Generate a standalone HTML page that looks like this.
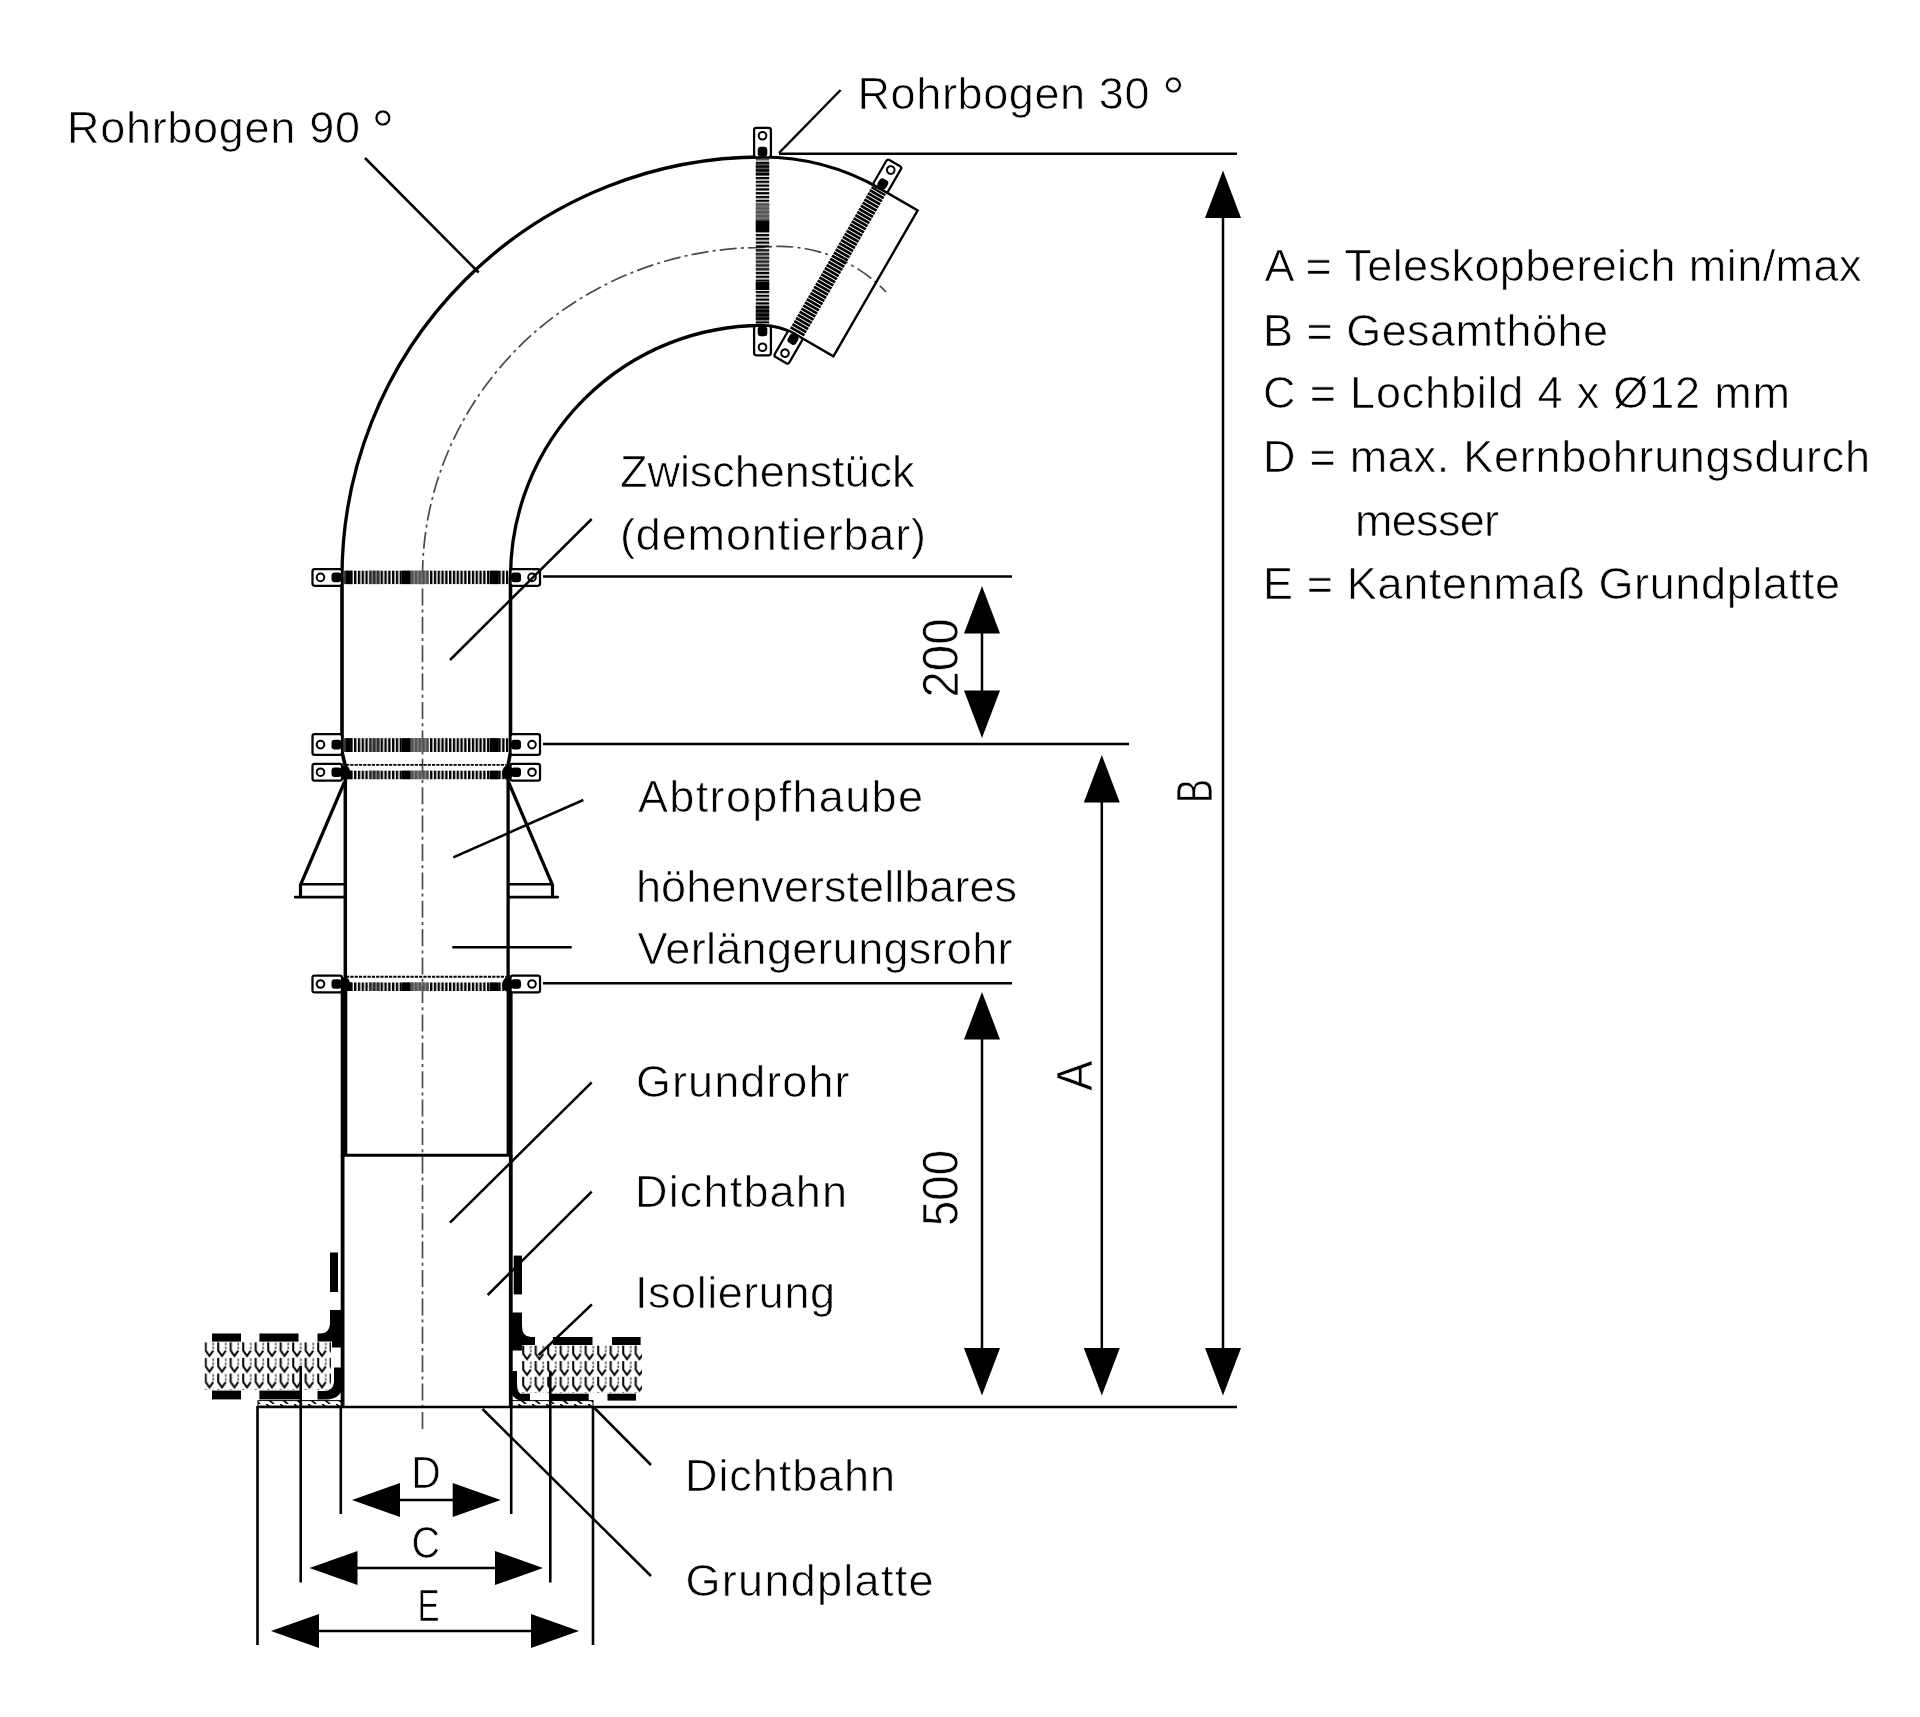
<!DOCTYPE html>
<html lang="de"><head><meta charset="utf-8"><title>Dachdurchführung</title>
<style>html,body{margin:0;padding:0;background:#fff;overflow:hidden}svg{display:block;filter:grayscale(1)}text{font-family:"Liberation Sans", "DejaVu Sans", sans-serif;fill:#000;stroke:#fff;stroke-width:.7px}</style>
</head><body>
<svg width="1920" height="1717" viewBox="0 0 1920 1717">
<defs>
<pattern id="stripe" width="3.8" height="10" patternUnits="userSpaceOnUse"><rect x="0" y="0" width="2.35" height="10" fill="#000"/></pattern>
<pattern id="stripe2" width="3.6" height="10" patternUnits="userSpaceOnUse"><rect x="0" y="0" width="2.7" height="10" fill="#000"/></pattern>
<pattern id="iso" width="12.5" height="15.7" patternUnits="userSpaceOnUse"><path d="M1.2,2 V8.5 L5,13.8 L8.8,8.5" fill="none" stroke="#000" stroke-width="2"/><path d="M8.8,0.5 V8.5" fill="none" stroke="#666" stroke-width="1.7" stroke-dasharray="2.6 1.4"/><path d="M1.2,0 V2" fill="none" stroke="#000" stroke-width="2"/></pattern>
<pattern id="hatch" width="14" height="6" patternUnits="userSpaceOnUse"><path d="M0,0 L8,6" stroke="#000" stroke-width="1.6"/></pattern>
</defs>
<rect width="1920" height="1717" fill="#fff"/>
<path d="M422.5,1429 V577 A339.5,329.5 0 0 1 762.0,247.5 A146.0,145.5 0 0 1 886,292" fill="none" stroke="#4a4a4a" stroke-width="1.7" stroke-dasharray="17 4.2 3 4.2"/>
<path d="M342.0,577.0 A420.0,420.0 0 0 1 762.0,157.0" fill="none" stroke="#000" stroke-width="3.3"/>
<path d="M510.5,577.0 A251.5,251.5 0 0 1 762.0,325.5" fill="none" stroke="#000" stroke-width="3.3"/>
<path d="M762.0,157.0 A236.0,236.0 0 0 1 880.00,188.62" fill="none" stroke="#000" stroke-width="3.1"/>
<path d="M762.0,325.5 A67.5,67.5 0 0 1 795.75,334.54" fill="none" stroke="#000" stroke-width="3.1"/>
<path d="M880.00,188.62 l37.67,21.75 L833.42,356.29 L795.75,334.54" fill="none" stroke="#000" stroke-width="2.4"/>
<path d="M342.0,577 V752 L345.3,766 V772" fill="none" stroke="#000" stroke-width="3.6"/>
<path d="M510.5,577 V752 L508,766 V772" fill="none" stroke="#000" stroke-width="3.6"/>
<line x1="345.3" y1="772" x2="345.3" y2="984" stroke="#000" stroke-width="3.5" />
<line x1="508.1" y1="772" x2="508.1" y2="984" stroke="#000" stroke-width="3.3" />
<line x1="344" y1="984" x2="344" y2="1156" stroke="#000" stroke-width="6.6" />
<line x1="509.6" y1="984" x2="509.6" y2="1156" stroke="#000" stroke-width="6.0" />
<line x1="342.6" y1="1155" x2="342.6" y2="1406" stroke="#000" stroke-width="3.8" />
<line x1="510.8" y1="1155" x2="510.8" y2="1406" stroke="#000" stroke-width="3.8" />
<line x1="343" y1="1155.2" x2="510.7" y2="1155.2" stroke="#000" stroke-width="3" />
<path d="M344.5,782 L300.5,885 V897" fill="none" stroke="#000" stroke-width="3.2" stroke-linejoin="round"/>
<path d="M508.5,782 L552.5,885 V897" fill="none" stroke="#000" stroke-width="3.2" stroke-linejoin="round"/>
<line x1="300" y1="884.3" x2="344" y2="884.3" stroke="#000" stroke-width="2.6" />
<line x1="295.3" y1="897.1" x2="344" y2="897.1" stroke="#000" stroke-width="2.9" stroke-linecap="round"/>
<line x1="509" y1="884.3" x2="552.5" y2="884.3" stroke="#000" stroke-width="2.6" />
<line x1="509" y1="897.1" x2="557.7" y2="897.1" stroke="#000" stroke-width="2.9" stroke-linecap="round"/>
<line x1="779" y1="153.7" x2="1237" y2="153.7" stroke="#000" stroke-width="2.5" />
<line x1="543" y1="576.6" x2="1012" y2="576.6" stroke="#000" stroke-width="2.5" />
<line x1="543" y1="744" x2="1129" y2="744" stroke="#000" stroke-width="2.5" />
<line x1="543" y1="983.2" x2="1012" y2="983.2" stroke="#000" stroke-width="2.5" />
<line x1="257" y1="1407" x2="1237" y2="1407" stroke="#000" stroke-width="2.6" />
<g transform="translate(762.5 241.5) rotate(90)">
<rect x="-113.75" y="-8.4" width="29.50" height="16.8" rx="2.2" fill="#fff" stroke="#000" stroke-width="2.25"/>
<circle cx="-105.75" cy="0" r="3.8" fill="#fff" stroke="#000" stroke-width="2"/>
<rect x="-94.75" y="-4.8" width="10" height="9.6" rx="3.2" fill="#000"/>
<rect x="84.25" y="-8.4" width="29.50" height="16.8" rx="2.2" fill="#fff" stroke="#000" stroke-width="2.25"/>
<circle cx="105.75" cy="0" r="3.8" fill="#fff" stroke="#000" stroke-width="2"/>
<rect x="84.75" y="-4.8" width="10" height="9.6" rx="3.2" fill="#000"/>
<rect x="-82.25" y="-6.7" width="164.5" height="13.4" fill="url(#stripe)"/>
<rect x="-21" y="-6.7" width="11.5" height="13.4" fill="#000" opacity="1"/>
<rect x="40.5" y="-6.7" width="8.0" height="13.4" fill="#000" opacity="1"/>
<rect x="64" y="-6.7" width="15" height="13.4" fill="#000" opacity="0.75"/>
<rect x="-38.5" y="-6.7" width="17.5" height="13.4" fill="#666" opacity="0.85"/>
<rect x="-78" y="-6.7" width="12" height="13.4" fill="#000" opacity="0.6"/>
<rect x="8" y="-6.7" width="22" height="13.4" fill="#555" opacity="0.45"/>
</g>
<g transform="translate(837.875 261.58064497571144) rotate(120)">
<rect x="-113.75" y="-8.4" width="29.50" height="16.8" rx="2.2" fill="#fff" stroke="#000" stroke-width="2.25"/>
<circle cx="-105.75" cy="0" r="3.8" fill="#fff" stroke="#000" stroke-width="2"/>
<rect x="-94.75" y="-4.8" width="10" height="9.6" rx="3.2" fill="#000"/>
<rect x="84.25" y="-8.4" width="29.50" height="16.8" rx="2.2" fill="#fff" stroke="#000" stroke-width="2.25"/>
<circle cx="105.75" cy="0" r="3.8" fill="#fff" stroke="#000" stroke-width="2"/>
<rect x="84.75" y="-4.8" width="10" height="9.6" rx="3.2" fill="#000"/>
<rect x="-82.25" y="-8" width="164.5" height="16" fill="url(#stripe2)"/>
</g>
<g transform="translate(426.25 577.4) rotate(0)">
<rect x="-113.75" y="-8.4" width="29.50" height="16.8" rx="2.2" fill="#fff" stroke="#000" stroke-width="2.25"/>
<circle cx="-105.75" cy="0" r="3.8" fill="#fff" stroke="#000" stroke-width="2"/>
<rect x="-94.75" y="-4.8" width="10" height="9.6" rx="3.2" fill="#000"/>
<rect x="84.25" y="-8.4" width="29.50" height="16.8" rx="2.2" fill="#fff" stroke="#000" stroke-width="2.25"/>
<circle cx="105.75" cy="0" r="3.8" fill="#fff" stroke="#000" stroke-width="2"/>
<rect x="84.75" y="-4.8" width="10" height="9.6" rx="3.2" fill="#000"/>
<rect x="-82.25" y="-6.7" width="164.5" height="13.4" fill="url(#stripe)"/>
<rect x="-24.5" y="-6.7" width="9.0" height="13.4" fill="#000" opacity="1"/>
<rect x="63.5" y="-6.7" width="9.0" height="13.4" fill="#000" opacity="1"/>
<rect x="-81" y="-6.7" width="7" height="13.4" fill="#000" opacity="1"/>
<rect x="-15.5" y="-6.7" width="17.5" height="13.4" fill="#666" opacity="0.8"/>
<rect x="-57" y="-6.7" width="11" height="13.4" fill="#444" opacity="0.7"/>
</g>
<g transform="translate(426.25 744.6) rotate(0)">
<rect x="-113.75" y="-10.4" width="29.50" height="20.8" rx="2.2" fill="#fff" stroke="#000" stroke-width="2.25"/>
<circle cx="-105.75" cy="0" r="3.8" fill="#fff" stroke="#000" stroke-width="2"/>
<rect x="-94.75" y="-4.8" width="10" height="9.6" rx="3.2" fill="#000"/>
<rect x="84.25" y="-10.4" width="29.50" height="20.8" rx="2.2" fill="#fff" stroke="#000" stroke-width="2.25"/>
<circle cx="105.75" cy="0" r="3.8" fill="#fff" stroke="#000" stroke-width="2"/>
<rect x="84.75" y="-4.8" width="10" height="9.6" rx="3.2" fill="#000"/>
<rect x="-82.25" y="-6.4" width="164.5" height="13.8" fill="url(#stripe)"/>
<rect x="-24.5" y="-6.4" width="9.0" height="13.8" fill="#000" opacity="1"/>
<rect x="63.5" y="-6.4" width="9.0" height="13.8" fill="#000" opacity="1"/>
<rect x="-81" y="-6.4" width="7" height="13.8" fill="#000" opacity="1"/>
<rect x="-15.5" y="-6.4" width="17.5" height="13.8" fill="#666" opacity="0.8"/>
<rect x="-57" y="-6.4" width="11" height="13.8" fill="#444" opacity="0.7"/>
</g>
<g transform="translate(426.25 772.2) rotate(0)">
<rect x="-113.75" y="-8.4" width="29.50" height="16.8" rx="2.2" fill="#fff" stroke="#000" stroke-width="2.25"/>
<circle cx="-105.75" cy="0" r="3.8" fill="#fff" stroke="#000" stroke-width="2"/>
<rect x="-94.75" y="-4.8" width="10" height="9.6" rx="3.2" fill="#000"/>
<rect x="84.25" y="-8.4" width="29.50" height="16.8" rx="2.2" fill="#fff" stroke="#000" stroke-width="2.25"/>
<circle cx="105.75" cy="0" r="3.8" fill="#fff" stroke="#000" stroke-width="2"/>
<rect x="84.75" y="-4.8" width="10" height="9.6" rx="3.2" fill="#000"/>
<rect x="-82.25" y="-1.5" width="164.5" height="8.5" fill="url(#stripe)"/>
<rect x="-24.5" y="-1.5" width="9.0" height="8.5" fill="#000" opacity="1"/>
<rect x="63.5" y="-1.5" width="9.0" height="8.5" fill="#000" opacity="1"/>
<rect x="-81" y="-1.5" width="7" height="8.5" fill="#000" opacity="1"/>
<rect x="-15.5" y="-1.5" width="17.5" height="8.5" fill="#666" opacity="0.8"/>
<rect x="-57" y="-1.5" width="11" height="8.5" fill="#444" opacity="0.7"/>
<line x1="-80.25" y1="-7.3" x2="80.25" y2="-7.3" stroke="#000" stroke-width="1.9" stroke-dasharray="3.2 1.1"/>
<ellipse cx="-81.25" cy="0.5" rx="5.2" ry="7.2" fill="#000"/>
<ellipse cx="81.25" cy="0.5" rx="5.2" ry="7.2" fill="#000"/>
</g>
<g transform="translate(426.25 984.0) rotate(0)">
<rect x="-113.75" y="-8.4" width="29.50" height="16.8" rx="2.2" fill="#fff" stroke="#000" stroke-width="2.25"/>
<circle cx="-105.75" cy="0" r="3.8" fill="#fff" stroke="#000" stroke-width="2"/>
<rect x="-94.75" y="-4.8" width="10" height="9.6" rx="3.2" fill="#000"/>
<rect x="84.25" y="-8.4" width="29.50" height="16.8" rx="2.2" fill="#fff" stroke="#000" stroke-width="2.25"/>
<circle cx="105.75" cy="0" r="3.8" fill="#fff" stroke="#000" stroke-width="2"/>
<rect x="84.75" y="-4.8" width="10" height="9.6" rx="3.2" fill="#000"/>
<rect x="-82.25" y="-1.5" width="164.5" height="8.5" fill="url(#stripe)"/>
<rect x="-24.5" y="-1.5" width="9.0" height="8.5" fill="#000" opacity="1"/>
<rect x="63.5" y="-1.5" width="9.0" height="8.5" fill="#000" opacity="1"/>
<rect x="-81" y="-1.5" width="7" height="8.5" fill="#000" opacity="1"/>
<rect x="-15.5" y="-1.5" width="17.5" height="8.5" fill="#666" opacity="0.8"/>
<rect x="-57" y="-1.5" width="11" height="8.5" fill="#444" opacity="0.7"/>
<line x1="-80.25" y1="-7.3" x2="80.25" y2="-7.3" stroke="#000" stroke-width="1.9" stroke-dasharray="3.2 1.1"/>
<ellipse cx="-81.25" cy="0.5" rx="5.2" ry="7.2" fill="#000"/>
<ellipse cx="81.25" cy="0.5" rx="5.2" ry="7.2" fill="#000"/>
</g>
<line x1="982" y1="620" x2="982" y2="700" stroke="#000" stroke-width="2.5" />
<polygon points="982,586 964.0,633.5 1000.0,633.5"/>
<polygon points="982,738 964.0,690.5 1000.0,690.5"/>
<line x1="982" y1="1030" x2="982" y2="1360" stroke="#000" stroke-width="2.5" />
<polygon points="982,992 964.0,1039.5 1000.0,1039.5"/>
<polygon points="982,1395.5 964.0,1348.0 1000.0,1348.0"/>
<line x1="1101.8" y1="795" x2="1101.8" y2="1360" stroke="#000" stroke-width="2.5" />
<polygon points="1101.8,755 1083.8,802.5 1119.8,802.5"/>
<polygon points="1101.8,1395.5 1083.8,1348.0 1119.8,1348.0"/>
<line x1="1223" y1="210" x2="1223" y2="1360" stroke="#000" stroke-width="2.5" />
<polygon points="1223,170.5 1205.0,218.0 1241.0,218.0"/>
<polygon points="1223,1395.5 1205.0,1348.0 1241.0,1348.0"/>
<g transform="translate(204.5 1342.2)"><rect x="0" y="0" width="126.5" height="47.6" fill="url(#iso)"/></g>
<g transform="translate(522 1345.4)"><rect x="0" y="0" width="120" height="47.6" fill="url(#iso)"/></g>
<rect x="212" y="1333.5" width="29.00" height="8.10" fill="#000"/>
<rect x="259.4" y="1333.5" width="39.10" height="8.10" fill="#000"/>
<rect x="212" y="1390.6" width="29.00" height="8.80" fill="#000"/>
<rect x="259.4" y="1390.6" width="41.60" height="8.80" fill="#000"/>
<rect x="330" y="1252.5" width="8.00" height="39.50" fill="#000"/>
<path d="M330,1310 H343 V1347.5 H332 V1341.6 H317.5 V1333.5 H320 Q330,1333.5 330,1322 Z" fill="#000"/>
<path d="M343,1367.5 V1386 Q341,1399.4 326,1399.4 H317.5 V1391 H324 Q334,1391 334,1380 V1367.5 Z" fill="#000"/>
<rect x="553" y="1337" width="39.50" height="8.00" fill="#000"/>
<rect x="612" y="1337" width="28.60" height="8.00" fill="#000"/>
<rect x="520" y="1393.7" width="10.00" height="6.90" fill="#000"/>
<rect x="550" y="1393.7" width="38.70" height="6.90" fill="#000"/>
<rect x="607.5" y="1393.7" width="28.50" height="6.90" fill="#000"/>
<rect x="513.7" y="1255.6" width="8.30" height="38.80" fill="#000"/>
<path d="M510,1312.5 H522 V1326 Q522,1337 531,1337 H535 V1345 H522 V1350.6 H510 Z" fill="#000"/>
<path d="M510,1371 H517 V1384 Q517,1394 524,1396 L521,1401 Q510,1398 510,1386 Z" fill="#000"/>
<rect x="258" y="1400.6" width="85" height="5.6" fill="url(#hatch)" stroke="#000" stroke-width="1"/>
<rect x="510.5" y="1400.6" width="82.5" height="5.6" fill="url(#hatch)" stroke="#000" stroke-width="1"/>
<line x1="257.5" y1="1406" x2="257.5" y2="1645" stroke="#000" stroke-width="2.6" />
<line x1="593" y1="1406" x2="593" y2="1645" stroke="#000" stroke-width="2.6" />
<line x1="300.7" y1="1366" x2="300.7" y2="1582.5" stroke="#000" stroke-width="2.6" />
<line x1="550.3" y1="1371" x2="550.3" y2="1582.5" stroke="#000" stroke-width="2.6" />
<line x1="340.8" y1="1406" x2="340.8" y2="1514" stroke="#000" stroke-width="2.6" />
<line x1="511.2" y1="1406" x2="511.2" y2="1514" stroke="#000" stroke-width="2.6" />
<line x1="395" y1="1500" x2="458" y2="1500" stroke="#000" stroke-width="2.6" />
<polygon points="352,1500 400,1483.0 400,1517.0"/>
<polygon points="500.7,1500 452.7,1483.0 452.7,1517.0"/>
<line x1="350" y1="1568" x2="500" y2="1568" stroke="#000" stroke-width="2.6" />
<polygon points="309.5,1568 357.5,1551.0 357.5,1585.0"/>
<polygon points="543,1568 495,1551.0 495,1585.0"/>
<line x1="312" y1="1631" x2="540" y2="1631" stroke="#000" stroke-width="2.6" />
<polygon points="271,1631 319,1614.0 319,1648.0"/>
<polygon points="579,1631 531,1614.0 531,1648.0"/>
<line x1="365" y1="158" x2="478.7" y2="272.5" stroke="#000" stroke-width="2.5" />
<line x1="840.6" y1="90" x2="779" y2="153" stroke="#000" stroke-width="2.5" />
<line x1="591.7" y1="519" x2="450" y2="660" stroke="#000" stroke-width="2.5" />
<line x1="583.3" y1="800" x2="453.3" y2="857.3" stroke="#000" stroke-width="2.5" />
<line x1="452.3" y1="947.3" x2="571.7" y2="947.3" stroke="#000" stroke-width="2.5" />
<line x1="591.7" y1="1082.3" x2="450" y2="1222.7" stroke="#000" stroke-width="2.5" />
<line x1="591.7" y1="1191.7" x2="487.7" y2="1295" stroke="#000" stroke-width="2.5" />
<line x1="591.9" y1="1304.4" x2="538.7" y2="1355" stroke="#000" stroke-width="2.5" />
<line x1="594" y1="1407.5" x2="651" y2="1465" stroke="#000" stroke-width="2.5" />
<line x1="482.5" y1="1409" x2="651" y2="1576" stroke="#000" stroke-width="2.5" />
<text x="67" y="142.5" font-size="45" text-anchor="start" textLength="293" lengthAdjust="spacing">Rohrbogen 90</text>
<text x="371.5" y="150" font-size="57" text-anchor="start">°</text>
<text x="857.5" y="108.5" font-size="45" text-anchor="start" textLength="292" lengthAdjust="spacing">Rohrbogen 30</text>
<text x="1162" y="116.5" font-size="57" text-anchor="start">°</text>
<text x="620" y="486.7" font-size="45" text-anchor="start" textLength="294.5" lengthAdjust="spacing">Zwischenstück</text>
<text x="620" y="550" font-size="45" text-anchor="start" textLength="306" lengthAdjust="spacing">(demontierbar)</text>
<text x="638" y="812.3" font-size="45" text-anchor="start" textLength="285" lengthAdjust="spacing">Abtropfhaube</text>
<text x="636" y="901.7" font-size="45" text-anchor="start" textLength="381" lengthAdjust="spacing">höhenverstellbares</text>
<text x="637.5" y="964" font-size="45" text-anchor="start" textLength="375" lengthAdjust="spacing">Verlängerungsrohr</text>
<text x="636" y="1096.7" font-size="45" text-anchor="start" textLength="213.5" lengthAdjust="spacing">Grundrohr</text>
<text x="635" y="1207.3" font-size="45" text-anchor="start" textLength="212" lengthAdjust="spacing">Dichtbahn</text>
<text x="635" y="1308.3" font-size="45" text-anchor="start" textLength="200" lengthAdjust="spacing">Isolierung</text>
<text x="685" y="1490.5" font-size="45" text-anchor="start" textLength="210" lengthAdjust="spacing">Dichtbahn</text>
<text x="685.5" y="1595.5" font-size="45" text-anchor="start" textLength="248" lengthAdjust="spacing">Grundplatte</text>
<text x="1264.5" y="281.2" font-size="45" text-anchor="start" textLength="597" lengthAdjust="spacing">A = Teleskopbereich min/max</text>
<text x="1263" y="345.5" font-size="45" text-anchor="start" textLength="345" lengthAdjust="spacing">B = Gesamthöhe</text>
<text x="1263" y="408.4" font-size="45" text-anchor="start" textLength="527" lengthAdjust="spacing">C = Lochbild 4 x Ø12 mm</text>
<text x="1263" y="472" font-size="45" text-anchor="start" textLength="607" lengthAdjust="spacing">D = max. Kernbohrungsdurch</text>
<text x="1355" y="535.6" font-size="45" text-anchor="start" textLength="144" lengthAdjust="spacing">messer</text>
<text x="1263" y="599.2" font-size="45" text-anchor="start" textLength="577" lengthAdjust="spacing">E = Kantenmaß Grundplatte</text>
<text x="957.5" y="697.5" font-size="49.4" text-anchor="start" textLength="79" lengthAdjust="spacingAndGlyphs" transform="rotate(-90 957.5 697.5)">200</text>
<text x="957.5" y="1226" font-size="49.4" text-anchor="start" textLength="76" lengthAdjust="spacingAndGlyphs" transform="rotate(-90 957.5 1226)">500</text>
<text x="1091.5" y="1091" font-size="49.4" text-anchor="start" textLength="30.5" lengthAdjust="spacingAndGlyphs" transform="rotate(-90 1091.5 1091)">A</text>
<text x="1212" y="803" font-size="49.4" text-anchor="start" textLength="24" lengthAdjust="spacingAndGlyphs" transform="rotate(-90 1212 803)">B</text>
<text x="411.3" y="1488" font-size="45" text-anchor="start" textLength="29.5" lengthAdjust="spacingAndGlyphs">D</text>
<text x="411.5" y="1558" font-size="45" text-anchor="start" textLength="28.5" lengthAdjust="spacingAndGlyphs">C</text>
<text x="417.6" y="1620.5" font-size="45" text-anchor="start" textLength="22" lengthAdjust="spacingAndGlyphs">E</text>
</svg></body></html>
